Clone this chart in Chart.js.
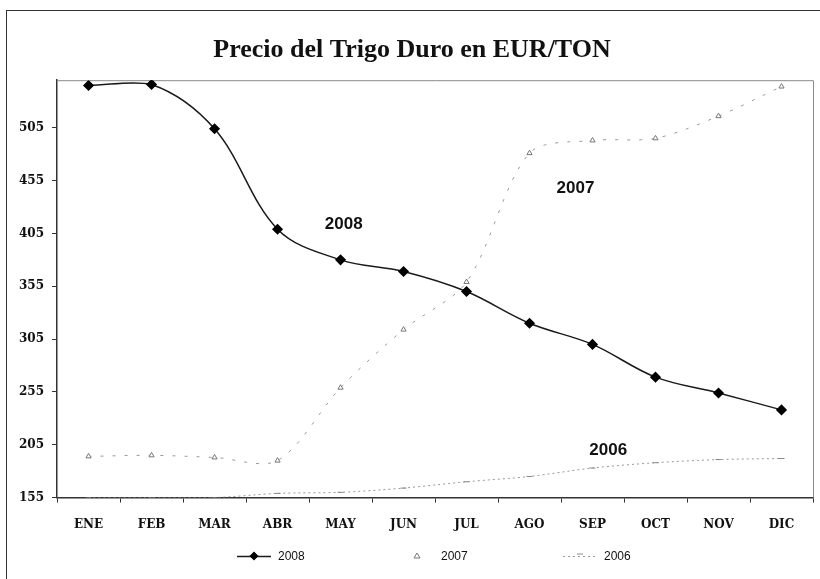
<!DOCTYPE html>
<html>
<head>
<meta charset="utf-8">
<title>Precio del Trigo Duro</title>
<script src="https://cdn.jsdelivr.net/npm/chart.js@4.4.0/dist/chart.umd.min.js"></script>
<style>
    body { margin: 0; background: #fff; overflow: hidden; }
    #marco { position: absolute; left: 6px; top: 10px; width: 830px; height: 600px; border: 1px solid #333; }
    #contenedor { position: absolute; left: 0; top: 0; width: 820px; height: 579px; }
</style>
</head>
<body>
<div id="marco"></div>
<div id="contenedor"><canvas id="graficoTrigo" width="820" height="579"></canvas></div>
<script>
// Datos (EUR/TON)
var meses = ["ENE", "FEB", "MAR", "ABR", "MAY", "JUN", "JUL", "AGO", "SEP", "OCT", "NOV", "DIC"];
var precios2008 = [545, 546, 504, 409, 380, 369, 350, 320, 300, 269, 254, 238];
var precios2007 = [194, 195, 193, 190, 259, 314, 359, 481, 493, 495, 516, 544];
var precios2006 = [155, 155, 155, 159, 160, 164, 170, 175, 183, 188, 191, 192];
var etiquetasSerie = ["2008", "2007", "2006"];
var ticksY = [155, 205, 255, 305, 355, 405, 455, 505];

// donde van los textos 2008 / 2007 / 2006 dentro del grafico (indice de mes, valor)
var posTextos = [[4.05, 414], [7.73, 448], [8.25, 200]];

var marcoGrafico = {
    id: 'marcoGrafico',
    beforeDatasetsDraw: function(chart) {
        var a = chart.chartArea, ctx = chart.ctx;
        ctx.save();
        ctx.strokeStyle = '#8a8a8a';
        ctx.lineWidth = 1;
        ctx.beginPath();
        ctx.moveTo(a.left, a.top + 0.5);
        ctx.lineTo(a.right + 0.5, a.top + 0.5);
        ctx.lineTo(a.right + 0.5, a.bottom);
        ctx.stroke();
        ctx.restore();
    },
    afterDraw: function(chart) {
        var ctx = chart.ctx;
        var x = chart.scales.x, y = chart.scales.y;
        ctx.save();
        // textos dentro del area
        ctx.fillStyle = '#111';
        ctx.font = 'bold 17px "Liberation Sans", Arial, sans-serif';
        ctx.textAlign = 'center';
        ctx.textBaseline = 'middle';
        for (var i = 0; i < posTextos.length; i++) {
            ctx.fillText(etiquetasSerie[i], x.getPixelForValue(posTextos[i][0]), y.getPixelForValue(posTextos[i][1]));
        }
        // leyenda abajo
        var ly = 556, inicio = 237, paso = 163;
        ctx.font = '12px "Liberation Sans Narrow", "Liberation Sans", Arial, sans-serif';
        ctx.textAlign = 'left';
        chart.data.datasets.forEach(function(ds, k) {
            var x0 = inicio + k * paso;
            ctx.strokeStyle = ds.borderColor;
            ctx.lineWidth = ds.borderWidth;
            ctx.setLineDash(ds.borderDash || []);
            if (k !== 1) {
                ctx.beginPath();
                ctx.moveTo(x0, ly + 0.5);
                ctx.lineTo(x0 + 34, ly + 0.5);
                ctx.stroke();
            }
            ctx.setLineDash([]);
            var cx = x0 + 17;
            ctx.fillStyle = ds.pointBackgroundColor;
            ctx.strokeStyle = ds.pointBorderColor;
            ctx.beginPath();
            if (k === 0) {
                ctx.moveTo(cx, ly - 4.5); ctx.lineTo(cx + 4.5, ly); ctx.lineTo(cx, ly + 4.5); ctx.lineTo(cx - 4.5, ly);
                ctx.closePath(); ctx.fill();
            } else if (k === 1) {
                ctx.moveTo(cx, ly - 3); ctx.lineTo(cx + 3, ly + 2); ctx.lineTo(cx - 3, ly + 2);
                ctx.closePath(); ctx.stroke();
            } else {
                ctx.moveTo(cx - 3, ly - 2); ctx.lineTo(cx + 3, ly - 2); ctx.stroke();
            }
            ctx.fillStyle = '#111';
            ctx.fillText(ds.label, x0 + 41, ly + 0.5);
        });
        ctx.restore();
    }
};

var ctx = document.getElementById("graficoTrigo").getContext("2d");
new Chart(ctx, {
    type: 'line',
    data: {
        labels: meses,
        datasets: [
            {
                label: etiquetasSerie[0],
                data: precios2008,
                borderColor: '#1a1a1a',
                borderWidth: 1.5,
                tension: 0.35,
                pointStyle: 'rectRot',
                pointRadius: 4.5,
                pointBackgroundColor: '#000',
                pointBorderColor: '#000',
                order: 0
            }, {
                label: etiquetasSerie[1],
                data: precios2007,
                borderColor: '#9a9a9a',
                borderWidth: 1,
                borderDash: [3, 9],
                tension: 0.3,
                pointStyle: 'triangle',
                pointRadius: 3,
                pointBackgroundColor: '#fff',
                pointBorderColor: '#777',
                pointBorderWidth: 1,
                order: 1
            }, {
                label: etiquetasSerie[2],
                data: precios2006,
                borderColor: '#9a9a9a',
                borderWidth: 1,
                borderDash: [2, 3],
                tension: 0.3,
                pointStyle: 'line',
                pointRadius: 3,
                pointBackgroundColor: '#888',
                pointBorderColor: '#888',
                pointBorderWidth: 1,
                order: 2
            }
        ]
    },
    options: {
        responsive: false,
        animation: false,
        layout: { padding: { left: 11, right: 7, top: 0, bottom: 32 } },
        plugins: {
            legend: { display: false },
            tooltip: { enabled: false },
            title: {
                display: true,
                text: 'Precio del Trigo Duro en EUR/TON',
                color: '#111',
                font: { family: '"Liberation Serif", "DejaVu Serif", serif', size: 26, weight: 'bold' },
                padding: { top: 35, bottom: 14 }
            }
        },
        scales: {
            x: {
                offset: true,
                grid: { offset: true, drawOnChartArea: false, drawTicks: true, tickLength: 5, color: '#333' },
                border: { color: '#333', width: 1.5 },
                ticks: {
                    color: '#111',
                    padding: 15,
                    maxRotation: 0,
                    font: { family: '"DejaVu Serif", serif', size: 12, weight: 'bold' }
                }
            },
            y: {
                min: 155,
                max: 550,
                afterBuildTicks: function(scale) {
                    scale.ticks = ticksY.map(function(v) { return { value: v }; });
                },
                grid: { drawOnChartArea: false, drawTicks: true, tickLength: 5, color: '#333' },
                border: { color: '#333', width: 1.5 },
                ticks: {
                    color: '#111',
                    padding: 8,
                    font: { family: '"DejaVu Serif", serif', size: 12, weight: 'bold' }
                }
            }
        }
    },
    plugins: [marcoGrafico]
});
</script>
</body>
</html>
